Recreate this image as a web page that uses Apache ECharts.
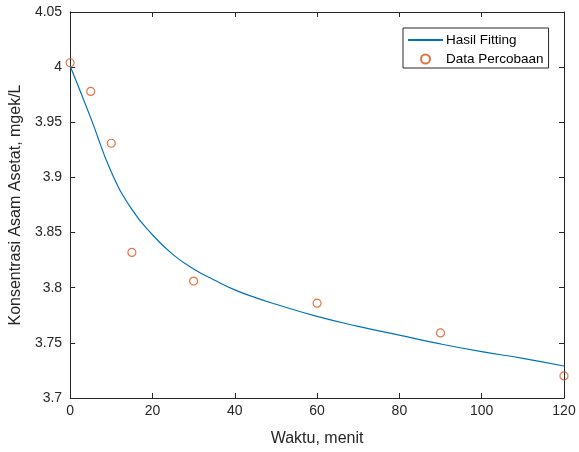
<!DOCTYPE html>
<html>
<head>
<meta charset="utf-8">
<script src="https://cdn.jsdelivr.net/npm/echarts@6/dist/echarts.min.js"></script>
<style>
html,body{margin:0;padding:0;background:#fff;}
#chart{width:579px;height:452px;}
</style>
</head>
<body>
<div id="chart"></div>
<script>
// Experimental data (Data Percobaan)
const dataTime = [0, 5, 10, 15, 30, 60, 90, 120];
const dataConc = [4.004, 3.978, 3.931, 3.832, 3.806, 3.786, 3.759, 3.720];

// Fitted curve (Hasil Fitting)
const fitTime = [0, 5, 10, 15, 20, 25, 30, 35, 40, 45, 50, 60, 70, 80, 90, 100, 110, 120];
const fitConc = [4.001, 3.954, 3.905, 3.871, 3.848, 3.830, 3.817, 3.807, 3.798, 3.791, 3.785, 3.774, 3.765, 3.757, 3.749, 3.742, 3.736, 3.729];

const xTicks = [0, 20, 40, 60, 80, 100, 120];
const yTicks = [3.7, 3.75, 3.8, 3.85, 3.9, 3.95, 4, 4.05];

const FONT = "'Liberation Sans', Arial, Helvetica, sans-serif";
const AX = '#262626';

const chart = echarts.init(document.getElementById('chart'), null, {renderer: 'canvas'});

const tick = {show: true, inside: true, length: 5, lineStyle: {color: AX, width: 1}};

chart.setOption({
  animation: false,
  backgroundColor: '#ffffff',
  textStyle: {fontFamily: FONT},
  grid: {left: 70, width: 494, top: 12, height: 390.5, show: false},
  legend: {
    left: 403, top: 28,
    orient: 'vertical',
    backgroundColor: '#ffffff',
    borderColor: AX, borderWidth: 1,
    padding: [5, 5, 2, 4],
    itemWidth: 35, itemHeight: 9, itemGap: 5,
    textStyle: {fontFamily: FONT, fontSize: 13.5, color: '#000', padding: [0, 0, 0, -2]},
    data: [
      {name: 'Hasil Fitting', itemStyle: {opacity: 0}},
      {name: 'Data Percobaan'}
    ]
  },
  xAxis: [{
    type: 'value', min: xTicks[0], max: xTicks[xTicks.length - 1], interval: 20,
    position: 'bottom',
    name: 'Waktu, menit', nameLocation: 'middle', nameGap: 33,
    nameTextStyle: {fontFamily: FONT, fontSize: 16, color: AX},
    axisLine: {show: true, lineStyle: {color: AX, width: 1}},
    axisTick: tick,
    axisLabel: {fontFamily: FONT, fontSize: 14, color: AX, margin: 6},
    splitLine: {show: false}
  }, {
    type: 'value', min: xTicks[0], max: xTicks[xTicks.length - 1], interval: 20,
    position: 'top',
    axisLine: {show: true, onZero: false, lineStyle: {color: AX, width: 1}},
    axisTick: tick, axisLabel: {show: false}, splitLine: {show: false}
  }],
  yAxis: [{
    type: 'value', min: yTicks[0], max: yTicks[yTicks.length - 1], interval: 0.05,
    position: 'left',
    name: 'Konsentrasi Asam Asetat, mgek/L', nameLocation: 'middle', nameGap: 32,
    nameTextStyle: {fontFamily: FONT, fontSize: 16, color: AX},
    axisLine: {show: true, onZero: false, lineStyle: {color: AX, width: 1}},
    axisTick: tick,
    axisLabel: {fontFamily: FONT, fontSize: 14, color: AX, margin: 8,
      formatter: v => String(+(+v).toFixed(2))},
    splitLine: {show: false}
  }, {
    type: 'value', min: yTicks[0], max: yTicks[yTicks.length - 1], interval: 0.05,
    position: 'right',
    axisLine: {show: true, onZero: false, lineStyle: {color: AX, width: 1}},
    axisTick: tick, axisLabel: {show: false}, splitLine: {show: false}
  }],
  series: [{
    name: 'Hasil Fitting',
    type: 'line',
    data: fitTime.map((t, i) => [t, fitConc[i]]),
    smooth: 0.5,
    showSymbol: false, symbol: 'none',
    lineStyle: {color: '#0072BD', width: 1.2},
    itemStyle: {color: '#0072BD'},
    z: 2
  }, {
    name: 'Data Percobaan',
    type: 'scatter',
    data: dataTime.map((t, i) => [t, dataConc[i]]),
    symbol: 'circle', symbolSize: 8,
    itemStyle: {color: 'rgba(255,255,255,0)', borderColor: '#D95319', borderWidth: 1.2},
    clip: false,
    z: 3
  }]
});
</script>
</body>
</html>
